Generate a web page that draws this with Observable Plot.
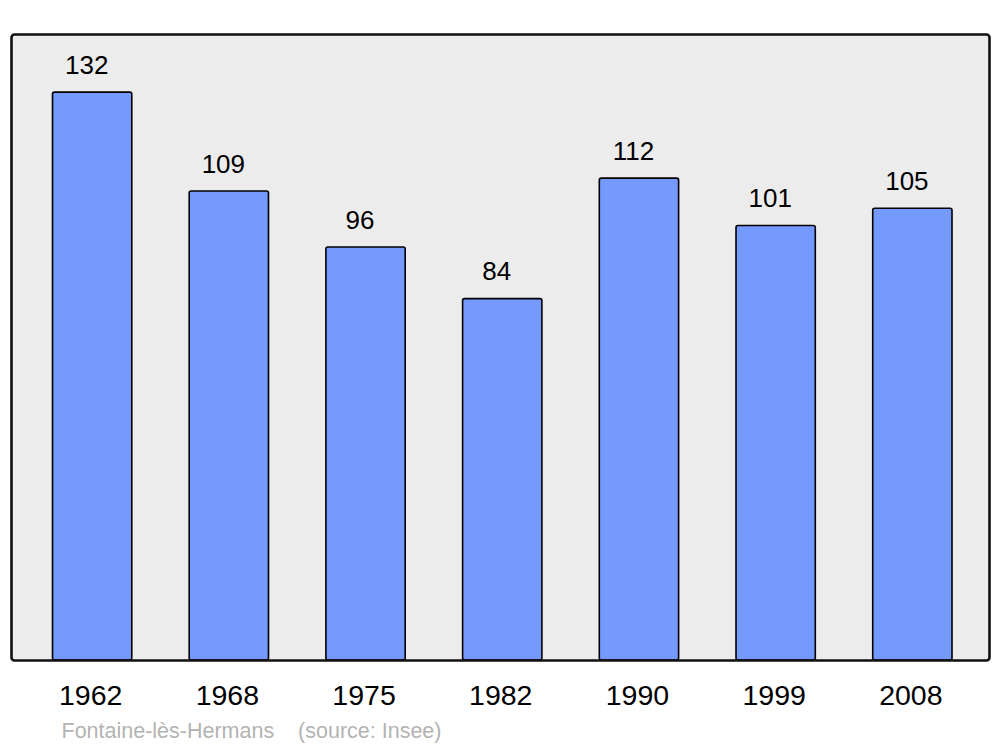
<!DOCTYPE html>
<html><head><meta charset="utf-8">
<script src="https://cdn.jsdelivr.net/npm/d3@7"></script>
<script src="https://cdn.jsdelivr.net/npm/@observablehq/plot@0.6"></script>
<style>body{margin:0;background:#fff;font-family:"Liberation Sans",Arial,sans-serif}</style>
</head><body><div id="chart"></div>
<script>
const years = ["1962","1968","1975","1982","1990","1999","2008"];
const population = [132,109,96,84,112,101,105];
const caption = "Fontaine-lès-Hermans    (source: Insee)";
const data = years.map((y,i)=>({year:y, pop:population[i]}));
const chart = Plot.plot({
  width:1000, height:747,
  marginLeft:11, marginRight:11, marginTop:34, marginBottom:87,
  style:{fontFamily:"Liberation Sans, Arial, sans-serif", background:"#fff"},
  x:{domain:years, range:[52.5,952], paddingInner:0.42, paddingOuter:0, round:false, axis:null},
  y:{domain:[0,145.5], axis:null},
  marks:[
    Plot.frame({fill:"#ececec", stroke:"none"}),
    Plot.barY(data,{x:"year", y:"pop", fill:"#7499ff", stroke:"#000", strokeWidth:1.6, rx:2}),
    Plot.frame({stroke:"#111", strokeWidth:2.6, rx:3}),
    Plot.text(data,{x:"year", y:"pop", text:d=>String(d.pop), dy:-27, dx:-6, fontSize:26, fill:"#000"}),
    Plot.text(data,{x:"year", y:0, text:"year", dy:35, dx:-2, fontSize:28.5, fill:"#000"}),
    Plot.text([caption],{frameAnchor:"bottom-left", text:d=>d, dx:50, dy:77, fontSize:21.5, fill:"#b3b3b3", textAnchor:"start"})
  ]
});
document.getElementById("chart").appendChild(chart);
</script></body></html>
